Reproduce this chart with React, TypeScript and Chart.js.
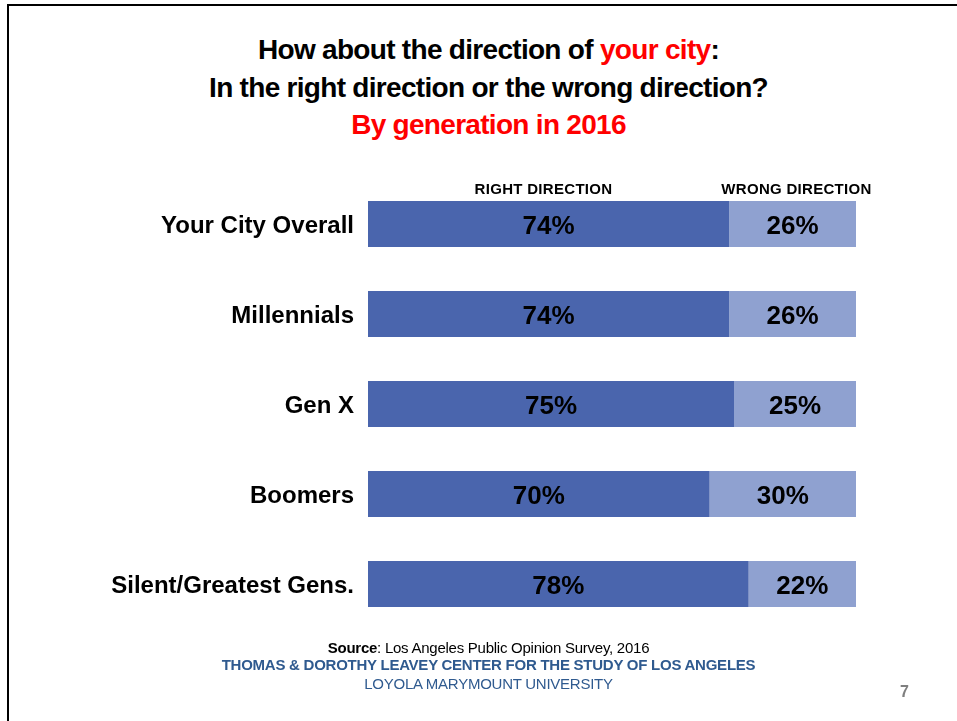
import React, { useEffect, useRef } from "react";
import { Chart, registerables } from "chart.js";

Chart.register(...registerables);

const categories = ["Your City Overall", "Millennials", "Gen X", "Boomers", "Silent/Greatest Gens."];
const rightDirection = [74, 74, 75, 70, 78];
const wrongDirection = [26, 26, 25, 30, 22];
const seriesNames = ["RIGHT DIRECTION", "WRONG DIRECTION"];

const FONT = "'Liberation Sans', Arial, Helvetica, sans-serif";

const labelPlugin = {
  id: "barLabels",
  afterDatasetsDraw(chart: any) {
    const ctx = chart.ctx;
    ctx.save();
    ctx.font = `bold 26px ${FONT}`;
    ctx.fillStyle = "#000";
    ctx.textAlign = "center";
    ctx.textBaseline = "middle";
    chart.data.datasets.forEach((ds: any, di: number) => {
      const meta = chart.getDatasetMeta(di);
      meta.data.forEach((el: any, i: number) => {
        const cx = (el.x + el.base) / 2;
        ctx.fillText(`${ds.data[i]}%`, cx, el.y + 3);
      });
    });
    ctx.restore();
  },
};

export default function App() {
  const ref = useRef<HTMLCanvasElement>(null);
  useEffect(() => {
    if (!ref.current) return;
    const chart = new Chart(ref.current, {
      type: "bar",
      data: {
        labels: categories,
        datasets: [
          { label: seriesNames[0], data: rightDirection, backgroundColor: "#4a65ad", barPercentage: 1, categoryPercentage: 0.512 },
          { label: seriesNames[1], data: wrongDirection, backgroundColor: "#8fa1d0", barPercentage: 1, categoryPercentage: 0.512 },
        ],
      },
      options: {
        indexAxis: "y",
        animation: false,
        responsive: false,
        events: [],
        layout: { padding: { top: 179, bottom: 92, right: 101, left: 0 } },
        plugins: { legend: { display: false }, tooltip: { enabled: false } },
        scales: {
          x: { stacked: true, display: false, min: 0, max: 100 },
          y: {
            stacked: true,
            grid: { display: false, drawTicks: false },
            border: { display: false },
            ticks: { color: "#000", font: { family: FONT, size: 24, weight: "bold" }, padding: 14, labelOffset: 2 },
            afterFit(scale: any) { scale.width = 368; },
          },
        },
      },
      plugins: [labelPlugin],
    } as any);
    return () => chart.destroy();
  }, []);

  const abs = (s: React.CSSProperties): React.CSSProperties => ({ position: "absolute", ...s });
  const titleLine: React.CSSProperties = { left: 0, width: 957, textAlign: "center", fontFamily: FONT, fontWeight: "bold", fontSize: 28, letterSpacing: -0.7, whiteSpace: "nowrap", lineHeight: "32px" };
  const header: React.CSSProperties = { width: 240, top: 180, textAlign: "center", fontFamily: FONT, fontWeight: "bold", fontSize: 15, letterSpacing: 0.3, whiteSpace: "nowrap" };
  const foot: React.CSSProperties = { left: 10, width: 957, textAlign: "center", fontFamily: FONT, fontSize: 15, letterSpacing: -0.25, whiteSpace: "nowrap", lineHeight: "17px" };

  return (
    <div style={{ position: "fixed", left: 0, top: 0, width: 957, height: 721, overflow: "hidden", background: "#fff" }}>
      <div style={abs({ left: 7, top: 4, width: 1100, height: 900, border: "2px solid #000", boxSizing: "border-box" })} />
      <div style={abs({ ...titleLine, top: 34, left: 10 })}>How about the direction of <span style={{ color: "#ff0000" }}>your city</span>:</div>
      <div style={abs({ ...titleLine, top: 72, left: 10 })}>In the right direction or the wrong direction?</div>
      <div style={abs({ ...titleLine, top: 109, left: 10, color: "#ff0000" })}>By generation in 2016</div>
      <canvas ref={ref} width={957} height={721} style={abs({ left: 0, top: 0 })} />
      <div style={abs({ ...header, left: 543.5 - 120 })}>RIGHT DIRECTION</div>
      <div style={abs({ ...header, left: 796.5 - 120 })}>WRONG DIRECTION</div>
      <div style={abs({ ...foot, top: 639 })}><b>Source</b>: Los Angeles Public Opinion Survey, 2016</div>
      <div style={abs({ ...foot, top: 656, fontWeight: "bold", color: "#2f5a8f" })}>THOMAS &amp; DOROTHY LEAVEY CENTER FOR THE STUDY OF LOS ANGELES</div>
      <div style={abs({ ...foot, top: 675, color: "#2f5a8f" })}>LOYOLA MARYMOUNT UNIVERSITY</div>
      <div style={abs({ left: 900, top: 683, fontFamily: FONT, fontSize: 16, fontWeight: "bold", color: "#7f7f7f" })}>7</div>
    </div>
  );
}
